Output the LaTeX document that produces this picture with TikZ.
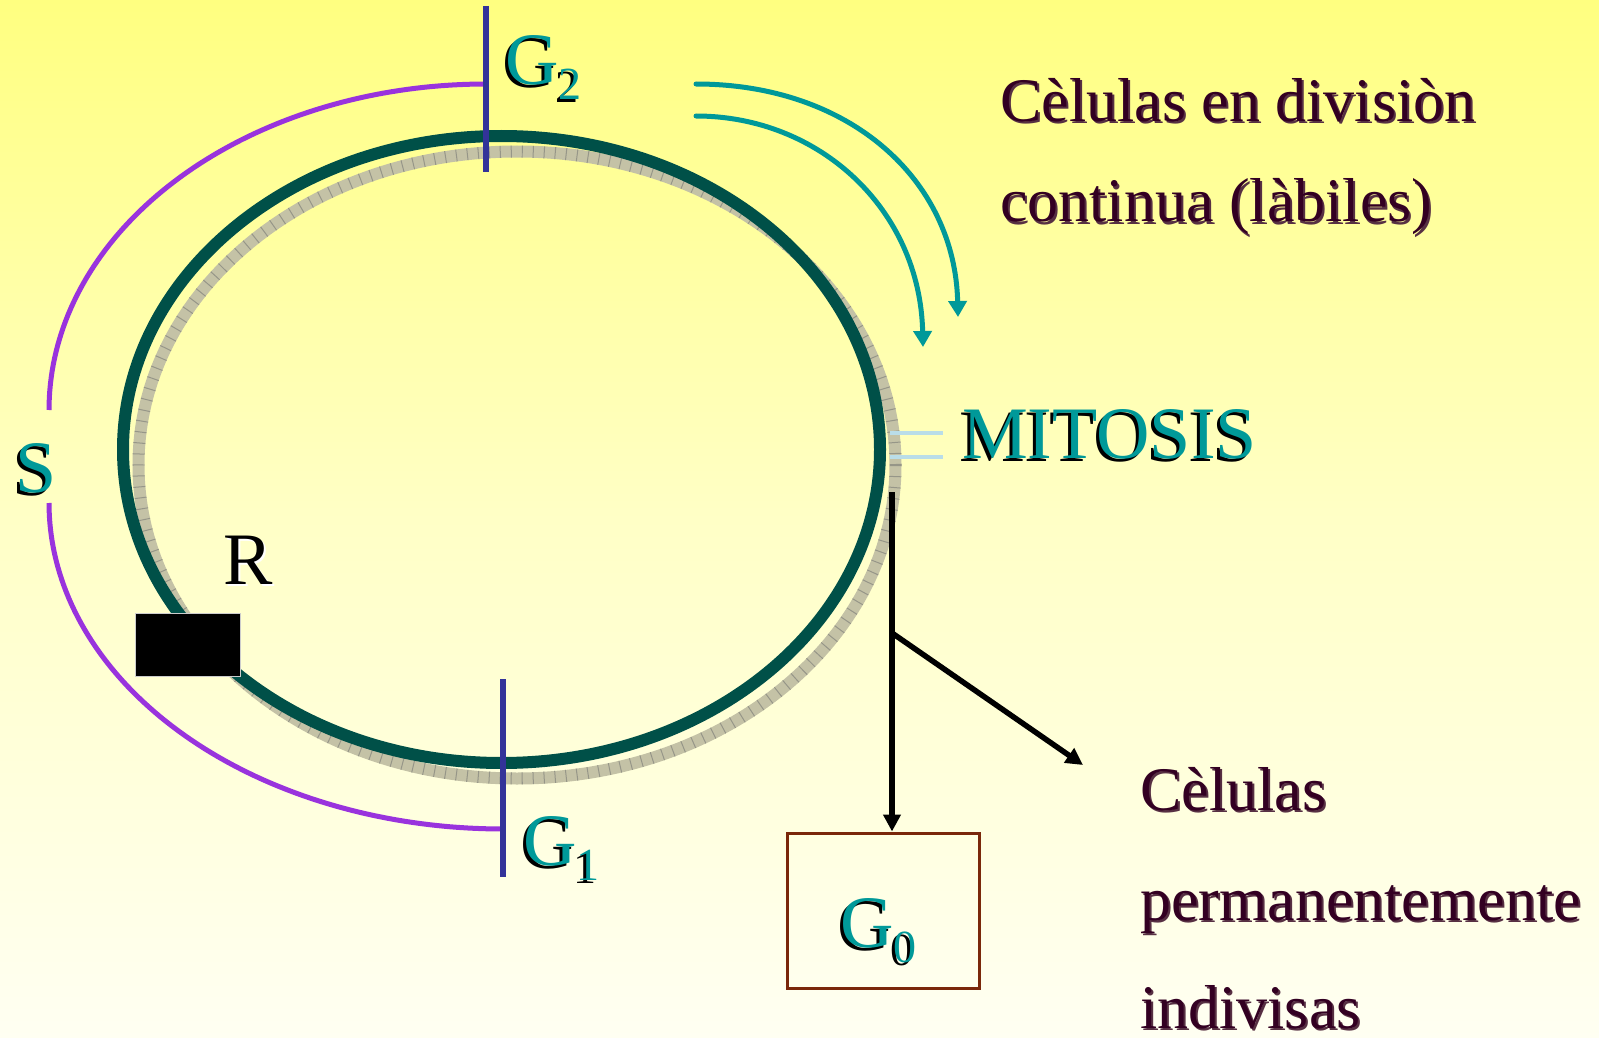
\documentclass[tikz,border=0pt]{standalone}
\usepackage{fontspec}
\setmainfont{Liberation Serif}
\usetikzlibrary{arrows.meta}
\definecolor{tealc}{RGB}{0,153,153}
\definecolor{darkg}{RGB}{0,80,72}
\definecolor{purp}{RGB}{153,51,221}
\definecolor{bluel}{RGB}{51,51,153}
\definecolor{marc}{RGB}{51,0,34}
\definecolor{hatchc}{RGB}{196,194,166}
\definecolor{hatchl}{RGB}{150,150,136}
\definecolor{lblue}{RGB}{186,221,232}
\definecolor{boxbrown}{RGB}{122,40,10}
\definecolor{bgtop}{RGB}{255,255,128}
\definecolor{bgmid}{RGB}{255,255,198}
\definecolor{bgbot}{RGB}{255,255,242}
\newcommand\subnum[1]{\raisebox{-15pt}{\fontsize{46}{46}\selectfont #1}}
\begin{document}
\begin{tikzpicture}[x=1pt,y=-1pt,
  lbl/.style={inner sep=0pt, anchor=base west},
  tlabel/.style={lbl, text=tealc, font=\fontsize{74}{74}\selectfont},
  tshadow/.style={lbl, text=black, font=\fontsize{74}{74}\selectfont},
  mlabel/.style={lbl, text=marc, font=\fontsize{62}{62}\selectfont},
  mshadow/.style={lbl, text=marc!75!hatchc, font=\fontsize{62}{62}\selectfont},
  phase/.style={purp, line width=5pt},
  tick/.style={bluel, line width=5.5pt},
  tarrow/.style={tealc, line width=5pt, line cap=round, -{Triangle[length=16pt,width=18pt]}},
  barrow/.style={black, line width=5.5pt, -{Triangle[length=17pt,width=17pt]}},
  mitline/.style={lblue, line width=4.5pt}
]
\useasboundingbox (0,0) rectangle (1599,1038);
\shade[top color=bgtop, bottom color=bgbot, middle color=bgmid] (0,0) rectangle (1599,1038);

% S phase arcs
\draw[phase] plot[domain=90:180, samples=80, variable=\t] ({486+437*cos(\t)},{410-326*sin(\t)});
\draw[phase] plot[domain=180:270, samples=80, variable=\t] ({503+454*cos(\t)},{503-326*sin(\t)});

% cycle ellipse with hatched shadow
\draw[hatchc, line width=12pt] (517,465) ellipse [x radius=378.5pt, y radius=313.5pt];
\draw[hatchl, line width=12pt, dash pattern=on 1pt off 10pt] (517,465) ellipse [x radius=378.5pt, y radius=313.5pt];
\draw[darkg, line width=12pt] (501.5,449.5) ellipse [x radius=378.5pt, y radius=313.5pt];

% phase ticks
\draw[tick] (486,6) -- (486,172);
\draw[tick] (503,679) -- (503,877);

% restriction point box
\node[fill=black, draw=black!20, line width=1pt, inner sep=0pt, minimum width=105pt, minimum height=63pt] (rbox) at (187.5,644.5) {};

% teal arrows
\coordinate (a1s) at (696,84);
\coordinate (a1e) at (958,317);
\coordinate (a2s) at (696,116);
\coordinate (a2e) at (923,347);
\draw[tarrow] (a1s) .. controls (850,84) and (955,180) .. (a1e);
\draw[tarrow] (a2s) .. controls (820,116) and (920,210) .. (a2e);

% mitosis marks
\draw[mitline] (890,433) -- (943,433);
\draw[mitline] (890,457) -- (943,457);

% G0 box and black connectors
\node[draw=boxbrown, line width=3pt, minimum width=192pt, minimum height=155pt, inner sep=0pt] (g0box) at (883,910.5) {};
\coordinate (mit) at (892,492);
\coordinate (br) at (892,633);
\coordinate (permtip) at (1083,765);
\draw[barrow] (mit) -- (mit |- g0box.north);
\draw[barrow] (br) -- (permtip);

% teal labels with shadows
\node[tshadow] at (502,88) {G\subnum{2}};
\node[tlabel] (g2) at (505,85) {G\subnum{2}};
\node[tshadow] at (520,868) {G\subnum{1}};
\node[tlabel] (g1) at (523,865) {G\subnum{1}};
\node[tshadow] at (837,950) {G\subnum{0}};
\node[tlabel] (g0) at (840,947) {G\subnum{0}};
\node[tshadow] at (959,461) {MITOSIS};
\node[tlabel] (mitosis) at (962,458) {MITOSIS};
\node[tshadow] at (12,495) {S};
\node[tlabel] (s) at (15,492) {S};

% R label
\node[lbl, text=white, font=\fontsize{74}{74}\selectfont] at (225,586) {R};
\node[lbl, text=black, font=\fontsize{74}{74}\selectfont] (r) at (223,584) {R};

% right texts
\node[mshadow] at (1002,124) {Cèlulas en divisiòn};
\node[mlabel] (t1) at (1000,122) {Cèlulas en divisiòn};
\node[mshadow] at (1002,224) {continua (làbiles)};
\node[mlabel] (t2) at (1000,222) {continua (làbiles)};
\node[mshadow] at (1142,812) {Cèlulas};
\node[mlabel] (t3) at (1140,810) {Cèlulas};
\node[mshadow] at (1142,922) {permanentemente};
\node[mlabel] (t4) at (1140,920) {permanentemente};
\node[mshadow] at (1142,1030) {indivisas};
\node[mlabel] (t5) at (1140,1028) {indivisas};
\end{tikzpicture}
\end{document}
